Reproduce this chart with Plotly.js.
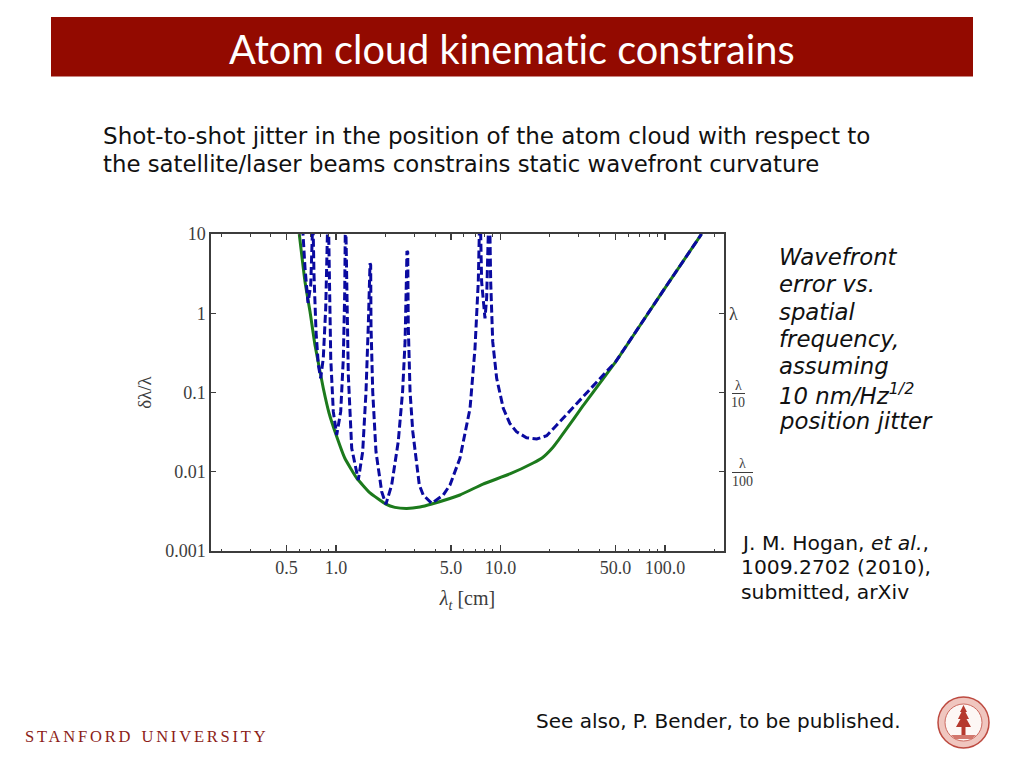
<!DOCTYPE html>
<html>
<head>
<meta charset="utf-8">
<script src="https://cdn.plot.ly/plotly-3.0.1.min.js"></script>
<style>html,body{margin:0;padding:0;background:#fff}#chart{width:1024px;height:768px}text,tspan{font-variant-ligatures:none !important;font-feature-settings:"liga" 0,"clig" 0 !important}</style>
</head>
<body>
<div id="chart"></div>
<script>
// ---- values ----
var envelopeX = [0.598,0.648,0.695,0.745,0.837,0.907,1.0,1.13,1.336,1.61,2.01,2.28,2.69,3.24,3.82,5.67,7.83,11.4,15.8,17.9,20.8,22.4,24.7,31.7,50.2,100,167];
var envelopeY = [10,2.5,1.05,0.398,0.113,0.0551,0.0295,0.0149,0.00834,0.0054,0.0039,0.00355,0.00344,0.00359,0.00392,0.00509,0.0070,0.00937,0.0129,0.0149,0.0202,0.0247,0.0327,0.0676,0.245,2.08,10];
var jitterX = [0.628,0.630,0.648,0.676,0.702,0.718,0.722,0.727,0.735,0.756,0.781,0.807,0.837,0.866,0.878,0.885,0.89,0.903,0.911,0.929,0.963,1.01,1.068,1.108,1.13,1.134,1.14,1.15,1.162,1.188,1.246,1.366,1.453,1.522,1.572,1.594,1.61,1.625,1.632,1.672,1.75,1.896,2.01,2.18,2.39,2.54,2.63,2.69,2.70,2.73,2.75,2.82,2.93,3.21,3.39,3.82,4.49,4.93,5.67,6.53,7.0,7.33,7.43,7.46,7.58,7.68,8.05,8.24,8.43,8.47,8.63,8.72,8.97,9.48,10.4,11.4,12.5,14.4,16.6,19.1,22,30.4,44.2,50.2,100,167];
var jitterY = [12,10,3.72,1.35,2.27,10,14,10,3.04,0.585,0.222,0.151,0.272,1.16,4.98,10,14,10,1.87,0.27,0.0573,0.0291,0.0573,0.27,1.87,10,14,10,1.87,0.166,0.0198,0.00787,0.0179,0.102,0.711,4.06,4.27,4.06,0.711,0.102,0.0179,0.0056,0.00388,0.0068,0.024,0.102,0.438,4.06,6.1,5.9,0.711,0.102,0.032,0.0068,0.00509,0.004,0.00509,0.0068,0.0148,0.0631,0.361,2.5,10,14,10,2.5,0.863,1.55,10,14,10,2.5,0.438,0.151,0.0631,0.0408,0.032,0.0269,0.0259,0.0285,0.0389,0.0803,0.183,0.245,2.08,10];
var xTickVals = [0.5,1,5,10,50,100];
var xTickText = ['0.5','1.0','5.0','10.0','50.0','100.0'];
var xMinorVals = [0.2,0.3,0.4,0.6,0.7,0.8,0.9,2,3,4,6,7,8,9,20,30,40,60,70,80,90,200];
var yTickVals = [10,1,0.1,0.01,0.001];
var yTickText = ['10','1','0.1','0.01','0.001'];
var subtitleLines = ['Shot-to-shot jitter in the position of the atom cloud with respect to','the satellite/laser beams constrains static wavefront curvature'];
var noteLines = ['Wavefront','error vs.','spatial','frequency,','assuming','10 nm/Hz<sup>1/2</sup>','position jitter'];
var citeLines = ['J. M. Hogan, <i>et al.</i>,','1009.2702 (2010),','submitted, arXiv'];

// ---- page geometry helpers ----
var L=211,R=724,T=234,B=551;
function px(x){return (x-L)/(R-L);}
function py(y){return 1-(y-T)/(B-T);}
function label(text,x,y,size,family,color,anchor){
  return {text:text,xref:'paper',yref:'paper',x:px(x),y:py(y),xanchor:anchor||'left',yanchor:'middle',showarrow:false,
          font:{size:size,family:family,color:color||'#111'}};
}
function box(x0,y0,x1,y1,o){
  return Object.assign({type:'rect',xref:'paper',yref:'paper',x0:px(x0),x1:px(x1),y0:py(y0),y1:py(y1),line:{width:0},layer:'below'},o);
}
function circ(cx,cy,r,o){
  return Object.assign({type:'circle',xref:'paper',yref:'paper',x0:px(cx-r),x1:px(cx+r),y0:py(cy-r),y1:py(cy+r),layer:'above'},o);
}
function poly(pts,color){
  var d=pts.map(function(p,i){return (i?'L':'M')+px(p[0]).toFixed(5)+' '+py(p[1]).toFixed(5);}).join(' ')+' Z';
  return {type:'path',xref:'paper',yref:'paper',path:d,fillcolor:color,line:{width:0},layer:'above'};
}

var body='"DejaVu Sans"', serif='"Liberation Serif"', axisInk='#3c3c3c';
var subtitleSizes=[23.05,22.8];
var annotations=[];
annotations.push(label('Atom cloud kinematic constrains',511.5,48,39.7,'Lato','#ffffff','center'));
subtitleLines.forEach(function(t,i){annotations.push(label(t,101,136+28*i,subtitleSizes[i],body));});
noteLines.forEach(function(t,i){annotations.push(label('<i>'+t+'</i>',777,257+27.3*i,22.8,body));});
citeLines.forEach(function(t,i){annotations.push(label(t,739,543+24.3*i,20.3,body));});
annotations.push(label('See also, P. Bender, to be published.',534,721,20,body));
annotations.push(label('<span style="letter-spacing:2.8px">STANFORD</span>  <span style="letter-spacing:2.8px">UNIVERSITY</span>',23,736,16.5,serif,'#8c1d18'));
annotations.push(label('λ',727,314,18,serif,axisInk));
annotations.push(label('λ',738,385,14,serif,axisInk,'center'));
annotations.push(label('10',738,402,14,serif,axisInk,'center'));
annotations.push(label('λ',742,463,14,serif,axisInk,'center'));
annotations.push(label('100',742,481,14,serif,axisInk,'center'));

var shapes=[
  box(51,17,973,76.5,{fillcolor:'#930a00'}),
  {type:'line',xref:'paper',yref:'paper',x0:px(732),x1:px(745),y0:py(393.5),y1:py(393.5),line:{color:axisInk,width:1}},
  {type:'line',xref:'paper',yref:'paper',x0:px(732),x1:px(753),y0:py(472.5),y1:py(472.5),line:{color:axisInk,width:1}},
  circ(963.5,722.5,25.5,{fillcolor:'#f0c6bf',line:{color:'#bd4a40',width:1.5}}),
  circ(963.5,722.5,18.5,{fillcolor:'#fdf7f5',line:{color:'#cc6a60',width:1}}),
  poly([[963.5,705],[967,712],[965.5,712],[969,719],[966.5,719],[971,727],[965.5,727],[965.5,737],[961.5,737],[961.5,727],[956,727],[960.5,719],[958,719],[961.5,712],[960,712]],'#b5392e'),
  poly([[951,735],[976,735],[972,739],[955,739]],'#d2776d')
];

var traces=[
  {type:'scatter',mode:'lines',name:'envelope',x:envelopeX,y:envelopeY,line:{color:'#1c7a1c',width:3,shape:'spline',smoothing:0.4},cliponaxis:true,hoverinfo:'skip'},
  {type:'scatter',mode:'lines',name:'jitter',x:jitterX,y:jitterY,line:{color:'#0a0aa0',width:3,dash:'8px,3.5px'},cliponaxis:true,hoverinfo:'skip'}
];

var layout={
  width:1024,height:768,showlegend:false,
  paper_bgcolor:'#ffffff',plot_bgcolor:'#ffffff',
  margin:{l:L,r:1024-R,t:T,b:768-B,pad:0},
  xaxis:{type:'log',range:[-0.76,2.359],tickmode:'array',tickvals:xTickVals,ticktext:xTickText,
    ticks:'inside',ticklen:6,tickwidth:1.2,tickcolor:axisInk,showline:true,linecolor:axisInk,linewidth:1.6,mirror:'ticks',
    showgrid:false,zeroline:false,tickangle:0,tickfont:{family:serif,size:18,color:axisInk},
    minor:{tickmode:'array',tickvals:xMinorVals,ticks:'inside',ticklen:2.5,tickwidth:1,tickcolor:axisInk,showgrid:false},
    title:{text:'<i>λ<sub>t</sub></i> [cm]',standoff:14,font:{family:serif,size:20,color:axisInk}}},
  yaxis:{type:'log',range:[-3,1],tickmode:'array',tickvals:yTickVals,ticktext:yTickText,
    ticks:'inside',ticklen:5,tickwidth:1.2,tickcolor:axisInk,showline:true,linecolor:axisInk,linewidth:1.6,mirror:'ticks',
    showgrid:false,zeroline:false,tickfont:{family:serif,size:18,color:axisInk},
    title:{text:'δλ/λ',standoff:8,font:{family:serif,size:19,color:axisInk}}},
  annotations:annotations,shapes:shapes
};
Plotly.newPlot('chart',traces,layout,{displayModeBar:false,staticPlot:true});
</script>
</body>
</html>
